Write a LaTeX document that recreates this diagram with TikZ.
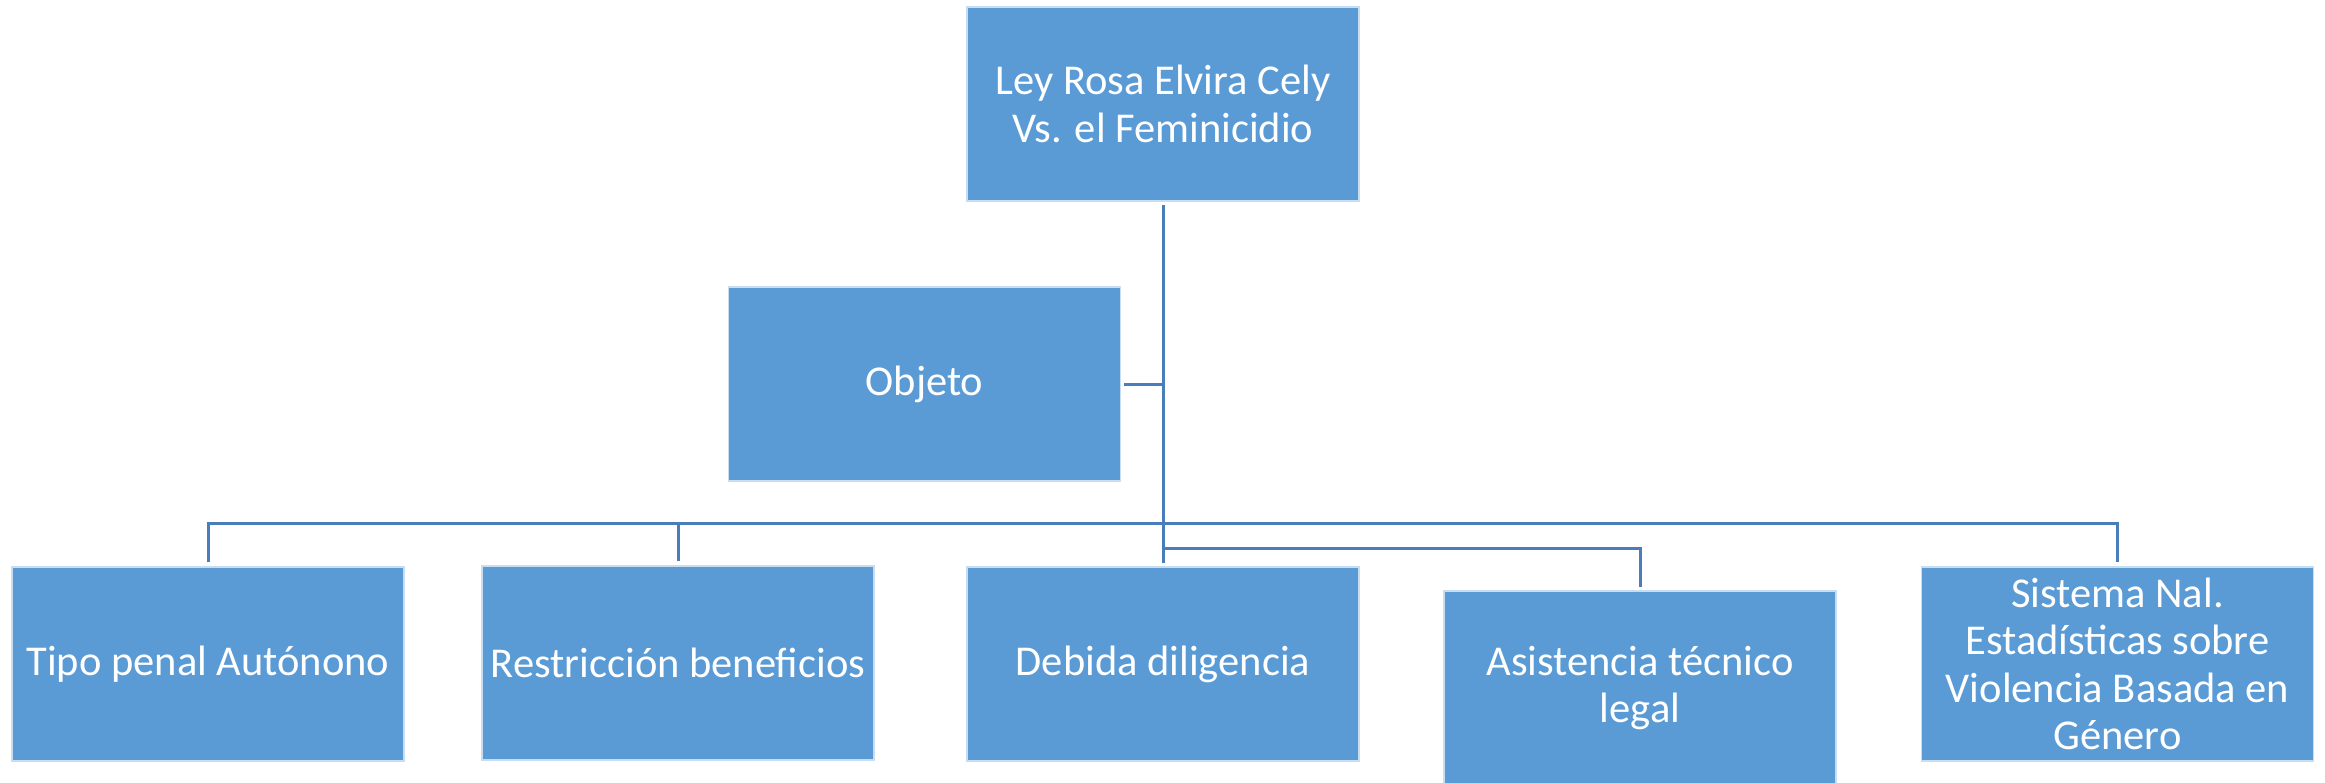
\documentclass[tikz,border=0pt]{standalone}
\usepackage{fontspec}
\setmainfont{Carlito}
\definecolor{boxfill}{HTML}{5B9BD5}
\definecolor{conncol}{HTML}{4A7EBB}
\definecolor{boxedge}{HTML}{C9DDF0}
\begin{document}
\begin{tikzpicture}[x=1pt,y=-1pt,
  box/.style={rectangle, fill=boxfill, draw=boxedge, line width=1.2pt,
    minimum width=392pt, minimum height=194pt, inner sep=0pt,
    text=white, align=center, font=\fontsize{42.5}{47.5}\selectfont},
  conn/.style={draw=conncol, line width=3pt}]
\useasboundingbox (0,0) rectangle (2325,782);
\node[box] (top) at (1163,104) {Ley Rosa Elvira Cely\\Vs. el Feminicidio};
\node[box] (obj) at (924.5,384) {Objeto};
\node[box] (b1) at (208,664) {Tipo penal Autónono};
\node[box] (b2) at (678,663) {Restricción beneficios};
\node[box] (b3) at (1163,664) {Debida diligencia};
\node[box] (b4) at (1640,688) {Asistencia técnico\\legal};
\node[box] (b5) at (2117.5,664) {Sistema Nal.\\Estadísticas sobre\\Violencia Basada en\\Género};
\coordinate (busy) at (0,523);
\coordinate (bustwo) at (0,548);
\coordinate (trunkend) at (1163,563);
\draw[conn] ([yshift=-3pt]top.south) -- (trunkend);
\draw[conn] ([xshift=3pt]obj.east) -- (obj.east -| trunkend);
\draw[conn] ([yshift=4pt]b1.north) -- (b1.north |- busy) -- (b5.north |- busy) -- ([yshift=4pt]b5.north);
\draw[conn] (b2.north |- busy) -- ([yshift=4pt]b2.north);
\draw[conn] (trunkend |- bustwo) -- (b4.north |- bustwo) -- ([yshift=3pt]b4.north);
\end{tikzpicture}
\end{document}
